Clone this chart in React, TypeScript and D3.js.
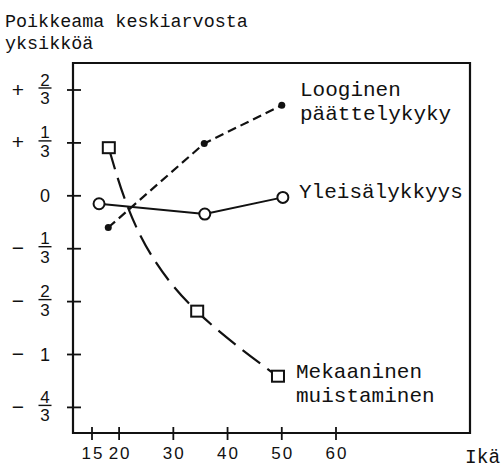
import React from "react";
import * as d3 from "d3";

const yleisAges = [16.3, 35.8, 50.2];
const yleisValues = [-0.05, -0.115, -0.01];
const loogAges = [18, 35.7, 50];
const loogValues = [-0.2, 0.33, 0.57];
const mekAges = [18.1, 34.4, 49.3];
const mekValues = [0.3, -0.73, -1.14];

const xTicks = [15, 20, 30, 40, 50, 60];
const yTicks = [2 / 3, 1 / 3, 0, -1 / 3, -2 / 3, -1, -4 / 3];
const yTickSigns = ["+", "+", "", "\u2212", "\u2212", "\u2212", "\u2212"];
const yTickNum = ["2", "1", "0", "1", "2", "1", "4"];
const yTickDen = ["3", "3", "", "3", "3", "", "3"];

const titleLines = ["Poikkeama keskiarvosta", "yksikköä"];
const xLabel = "Ikä";
const loogLabel = ["Looginen", "päättelykyky"];
const yleisLabel = ["Yleisälykkyys"];
const mekLabel = ["Mekaaninen", "muistaminen"];

const W = 503;
const H = 470;
const left = 73;
const right = 470;
const top = 63;
const bottom = 433;

const mono = "'Courier New', 'Liberation Mono', monospace";
const sans = "'Liberation Sans', Arial, sans-serif";

export default function App() {
  const x = d3.scaleLinear().domain([15, 60]).range([92, 336]);
  const y = d3.scaleLinear().domain([-4 / 3, 2 / 3]).range([407.4, 90]);

  const toPts = (a: number[], v: number[]) => a.map((d, i) => [x(d), y(v[i])] as [number, number]);
  const yleisPts = toPts(yleisAges, yleisValues);
  const loogPts = toPts(loogAges, loogValues);
  const mekPts = toPts(mekAges, mekValues);

  const lineLin = d3.line().curve(d3.curveLinear);
  const lineMonoY = d3.line().curve(d3.curveMonotoneY);

  return (
    <svg width={W} height={H} style={{ position: "absolute", left: 0, top: 0, background: "#fff" }}>
      <rect x={0} y={0} width={W} height={H} fill="#fff" />
      {/* title */}
      {titleLines.map((t, i) => (
        <text key={t} x={5} y={27 + i * 22} fontFamily={mono} fontSize={18.4} fill="#111">
          {t}
        </text>
      ))}
      {/* frame */}
      <path
        d={`M${left},${top}H${right}V${bottom}H${left}Z`}
        fill="none"
        stroke="#111"
        strokeWidth={2.2}
      />
      {/* y ticks */}
      {yTicks.map((v, i) => {
        const ty = y(v);
        const frac = yTickDen[i] !== "";
        return (
          <g key={i}>
            <line x1={67} x2={81} y1={ty} y2={ty} stroke="#111" strokeWidth={1.8} />
            {yTickSigns[i] && (
              <text x={18} y={ty + 6.5} textAnchor="middle" fontFamily={sans} fontSize={21} fill="#111">
                {yTickSigns[i]}
              </text>
            )}
            {frac ? (
              <g>
                <text x={45} y={ty - 4.5} textAnchor="middle" fontFamily={sans} fontSize={17} fill="#111">
                  {yTickNum[i]}
                </text>
                <line x1={38.5} x2={51.5} y1={ty - 2} y2={ty - 2} stroke="#111" strokeWidth={1.4} />
                <text x={45} y={ty + 14} textAnchor="middle" fontFamily={sans} fontSize={17} fill="#111">
                  {yTickDen[i]}
                </text>
              </g>
            ) : (
              <text x={45} y={ty + 6.5} textAnchor="middle" fontFamily={sans} fontSize={18} fill="#111">
                {yTickNum[i]}
              </text>
            )}
          </g>
        );
      })}
      {/* x ticks */}
      {xTicks.map((t) => (
        <g key={t}>
          <line x1={x(t)} x2={x(t)} y1={427} y2={440} stroke="#111" strokeWidth={1.8} />
          <text x={x(t) + 1} y={459} textAnchor="middle" fontFamily={sans} fontSize={17} letterSpacing={2} fill="#111">
            {t}
          </text>
        </g>
      ))}
      <text x={465} y={463} fontFamily={mono} fontSize={19.5} fill="#111">
        {xLabel}
      </text>

      {/* series lines */}
      <path d={lineLin(yleisPts) || ""} fill="none" stroke="#111" strokeWidth={2} />
      <path d={lineLin(loogPts) || ""} fill="none" stroke="#111" strokeWidth={2.2} strokeDasharray="9,5" />
      <path d={lineMonoY(mekPts) || ""} fill="none" stroke="#111" strokeWidth={2.2} strokeDasharray="22,9" />

      {/* markers */}
      {yleisPts.map((p, i) => (
        <circle key={"c" + i} cx={p[0]} cy={p[1]} r={5.5} fill="#fff" stroke="#111" strokeWidth={2} />
      ))}
      {loogPts.map((p, i) => (
        <circle key={"d" + i} cx={p[0]} cy={p[1]} r={3.5} fill="#111" />
      ))}
      {mekPts.map((p, i) => (
        <rect key={"s" + i} x={p[0] - 6} y={p[1] - 6} width={12} height={11} fill="#fff" stroke="#111" strokeWidth={2} />
      ))}

      {/* series labels */}
      {loogLabel.map((t, i) => (
        <text key={t} x={300} y={96 + i * 24} fontFamily={mono} fontSize={21} fill="#111">
          {t}
        </text>
      ))}
      {yleisLabel.map((t) => (
        <text key={t} x={299} y={198} fontFamily={mono} fontSize={21} fill="#111">
          {t}
        </text>
      ))}
      {mekLabel.map((t, i) => (
        <text key={t} x={296} y={378 + i * 24} fontFamily={mono} fontSize={21} fill="#111">
          {t}
        </text>
      ))}
    </svg>
  );
}
